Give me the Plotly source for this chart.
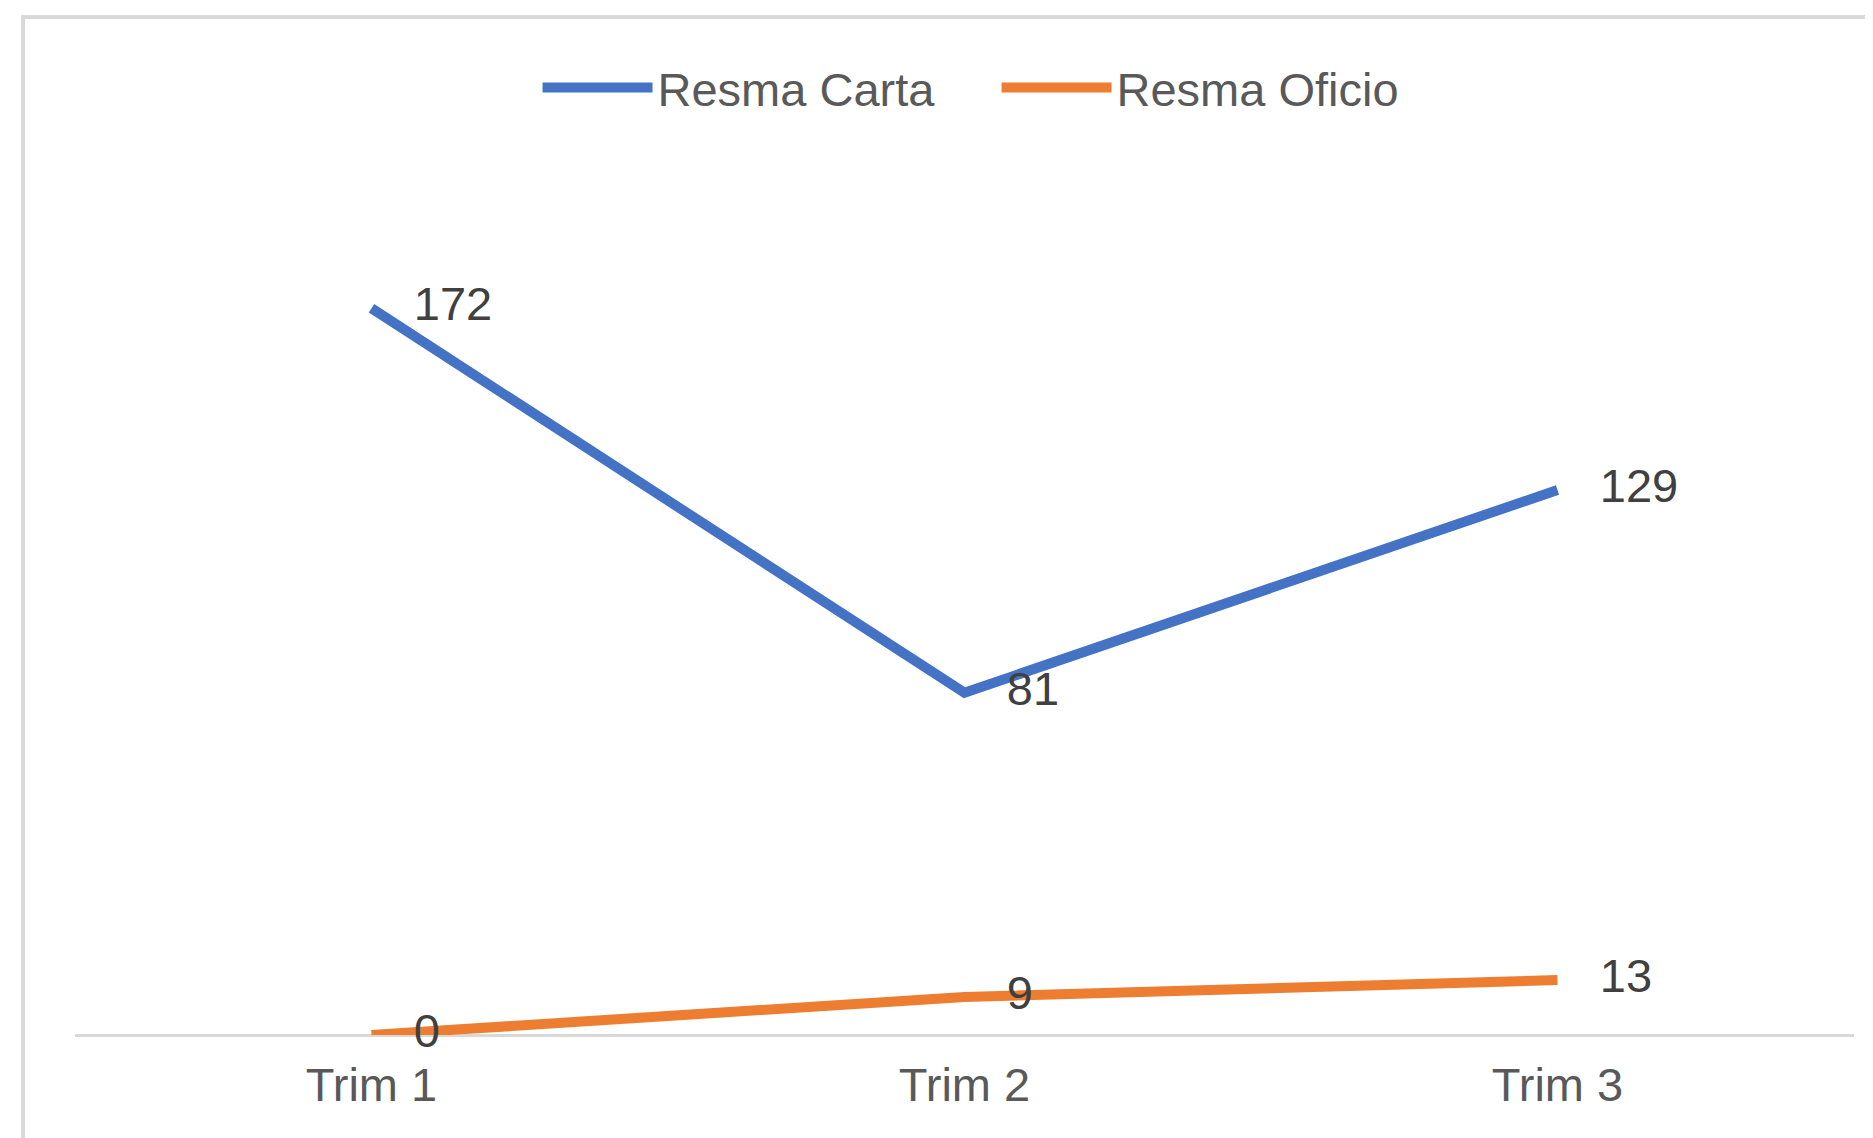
import plotly.graph_objects as go

categories = ["Trim 1", "Trim 2", "Trim 3"]
resma_carta = [172, 81, 129]
resma_oficio = [0, 9, 13]
series_names = ["Resma Carta", "Resma Oficio"]
colors = ["#4472C4", "#ED7D31"]

FONT = "Liberation Sans, Arial, sans-serif"
FS = 47

fig = go.Figure()
for name, vals, col in zip(series_names, [resma_carta, resma_oficio], colors):
    fig.add_trace(go.Scatter(
        x=categories, y=vals, name=name,
        mode="lines+markers+text",
        line=dict(color=col, width=10),
        marker=dict(size=66, color="rgba(0,0,0,0)", line=dict(width=0)),
        text=[str(v) for v in vals],
        textposition="middle right",
        textfont=dict(family=FONT, size=FS, color="#404040"),
        cliponaxis=False,
        hoverinfo="skip",
    ))

# chart-area border (left/top visible, right/bottom cropped in the reference)
fig.add_shape(type="rect", xref="paper", yref="paper",
              x0=-0.0292, x1=1.08, y0=-0.3, y1=1.2047,
              line=dict(color="#D9D9D9", width=4), layer="below")

fig.update_layout(
    width=1873, height=1138,
    margin=dict(l=67, r=27, t=182, b=111),
    paper_bgcolor="white", plot_bgcolor="white",
    font=dict(family=FONT, size=FS, color="#595959"),
    showlegend=True,
    legend=dict(orientation="h", x=0.26, y=1.1207, xanchor="left", yanchor="middle",
                font=dict(family=FONT, size=FS, color="#595959"),
                itemwidth=110, entrywidth=334, entrywidthmode="pixels",
                bgcolor="rgba(0,0,0,0)"),
    xaxis=dict(type="category", range=[-0.5, 2.5], showgrid=False, zeroline=False,
               showline=False, ticks="", ticklabelstandoff=18,
               tickfont=dict(family=FONT, size=FS, color="#595959")),
    yaxis=dict(range=[0, 200], showgrid=False, zeroline=True,
               zerolinecolor="#D9D9D9", zerolinewidth=3,
               showticklabels=False, showline=False, ticks=""),
)

fig.write_html("out.html")
